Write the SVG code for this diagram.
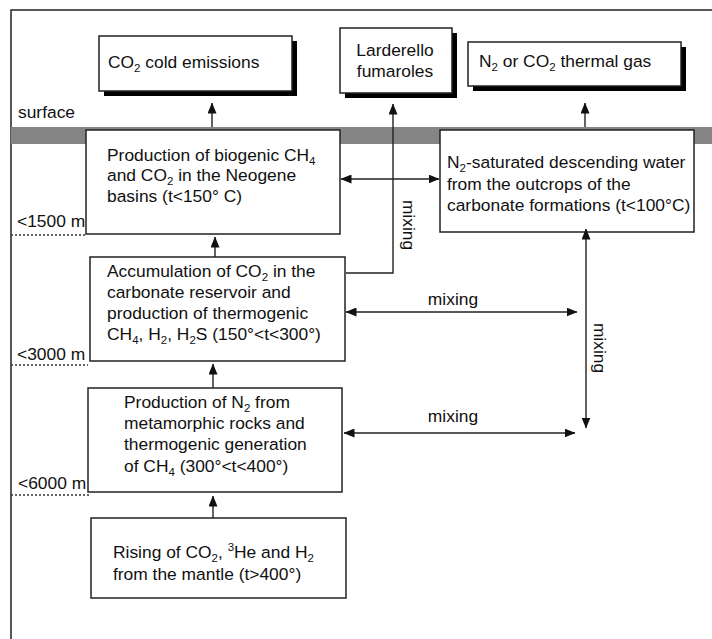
<svg xmlns="http://www.w3.org/2000/svg" width="712" height="639" viewBox="0 0 712 639">
<style>
text{font-family:"Liberation Sans",Arial,sans-serif;font-size:17.4px;fill:#111}
.box{fill:#fff;stroke:#222;stroke-width:1.5}
.shadow{fill:#000}
.ln{fill:none;stroke:#222;stroke-width:1.4}
.dot{fill:none;stroke:#333;stroke-width:1.3;stroke-dasharray:2 2}
.s{font-size:11.5px}
</style>
<defs>
<marker id="ah" markerUnits="userSpaceOnUse" markerWidth="11" markerHeight="9" refX="10.5" refY="4.5" orient="auto-start-reverse">
<path d="M0,0 L11,4.5 L0,9 z" fill="#111"/>
</marker>
</defs>
<rect width="712" height="639" fill="#fff"/>
<g id="frame">
<path d="M11,639 V10 H712" fill="none" stroke="#222" stroke-width="1.5"/>
<rect x="11" y="127" width="701" height="17" fill="#858585"/>
<text x="18" y="118">surface</text>
<text x="17" y="227">&lt;1500 m</text>
<path class="dot" d="M11,235 H86"/>
<text x="17" y="360">&lt;3000 m</text>
<path class="dot" d="M11,365 H88"/>
<text x="18" y="489">&lt;6000 m</text>
<path class="dot" d="M11,495 H89"/>
</g>
<g id="co2cold">
<rect class="shadow" x="104" y="41" width="193" height="55"/>
<rect class="box" x="99" y="36" width="193" height="55"/>
<text x="108" y="68">CO<tspan class="s" dy="3.5">2</tspan><tspan dy="-3.5"> cold emissions</tspan></text>
</g>
<g id="larderello">
<rect class="shadow" x="345" y="33" width="112" height="65"/>
<rect class="box" x="340" y="28" width="112" height="65"/>
<text x="395" y="56" text-anchor="middle">Larderello</text>
<text x="395" y="77" text-anchor="middle">fumaroles</text>
</g>
<g id="thermalgas">
<rect class="shadow" x="473" y="47" width="213" height="44"/>
<rect class="box" x="468" y="42" width="213" height="44"/>
<text x="479" y="67">N<tspan class="s" dy="3.5">2</tspan><tspan dy="-3.5"> or CO</tspan><tspan class="s" dy="3.5">2</tspan><tspan dy="-3.5"> thermal gas</tspan></text>
</g>
<g id="biogenic">
<rect class="box" x="86" y="130" width="254" height="104"/>
<text x="107" y="161">Production of biogenic CH<tspan class="s" dy="3.5">4</tspan></text>
<text x="107" y="181">and CO<tspan class="s" dy="3.5">2</tspan><tspan dy="-3.5"> in the Neogene</tspan></text>
<text x="107" y="202">basins (t&lt;150° C)</text>
</g>
<g id="descending">
<rect class="box" x="440" y="130" width="254" height="102"/>
<text x="447" y="168">N<tspan class="s" dy="3.5">2</tspan><tspan dy="-3.5">-saturated descending water</tspan></text>
<text x="447" y="190">from the outcrops of the</text>
<text x="447" y="211">carbonate formations (t&lt;100°C)</text>
</g>
<g id="accumulation">
<rect class="box" x="90" y="257" width="255" height="104"/>
<text x="107" y="277">Accumulation of CO<tspan class="s" dy="3.5">2</tspan><tspan dy="-3.5"> in the</tspan></text>
<text x="107" y="298">carbonate reservoir and</text>
<text x="107" y="319">production of thermogenic</text>
<text x="107" y="340">CH<tspan class="s" dy="3.5">4</tspan><tspan dy="-3.5">, H</tspan><tspan class="s" dy="3.5">2</tspan><tspan dy="-3.5">, H</tspan><tspan class="s" dy="3.5">2</tspan><tspan dy="-3.5">S (150°&lt;t&lt;300°)</tspan></text>
</g>
<g id="nitrogen">
<rect class="box" x="88" y="388" width="254" height="104"/>
<text x="124" y="408">Production of N<tspan class="s" dy="3.5">2</tspan><tspan dy="-3.5"> from</tspan></text>
<text x="124" y="429">metamorphic rocks and</text>
<text x="124" y="450">thermogenic generation</text>
<text x="124" y="472">of CH<tspan class="s" dy="3.5">4</tspan><tspan dy="-3.5"> (300°&lt;t&lt;400°)</tspan></text>
</g>
<g id="mantle">
<rect class="box" x="91" y="518" width="255" height="80"/>
<text x="113" y="558">Rising of CO<tspan class="s" dy="3.5">2</tspan><tspan dy="-3.5">, </tspan><tspan class="s" dy="-7">3</tspan><tspan dy="7">He and H</tspan><tspan class="s" dy="3.5">2</tspan></text>
<text x="113" y="580">from the mantle (t&gt;400°)</text>
</g>
<g id="connectors">
<path class="ln" d="M212,127 V103" marker-end="url(#ah)"/>
<path class="ln" d="M346,273 H393 V104" marker-end="url(#ah)"/>
<path class="ln" d="M585,127 V103" marker-end="url(#ah)"/>
<path class="ln" d="M341,179 H439" marker-start="url(#ah)" marker-end="url(#ah)"/>
<path class="ln" d="M215,257 V237" marker-end="url(#ah)"/>
<path class="ln" d="M213,388 V364" marker-end="url(#ah)"/>
<path class="ln" d="M213,518 V496" marker-end="url(#ah)"/>
<path class="ln" d="M346,312 H577" marker-start="url(#ah)" marker-end="url(#ah)"/>
<path class="ln" d="M344,433 H575" marker-start="url(#ah)" marker-end="url(#ah)"/>
<path class="ln" d="M586,229 V428" marker-start="url(#ah)" marker-end="url(#ah)"/>
<text x="453" y="305" text-anchor="middle">mixing</text>
<text x="453" y="422" text-anchor="middle">mixing</text>
<text x="0" y="0" text-anchor="middle" transform="translate(403,225) rotate(90)">mixing</text>
<text x="0" y="0" text-anchor="middle" transform="translate(594,348) rotate(90)">mixing</text>
</g>
</svg>
